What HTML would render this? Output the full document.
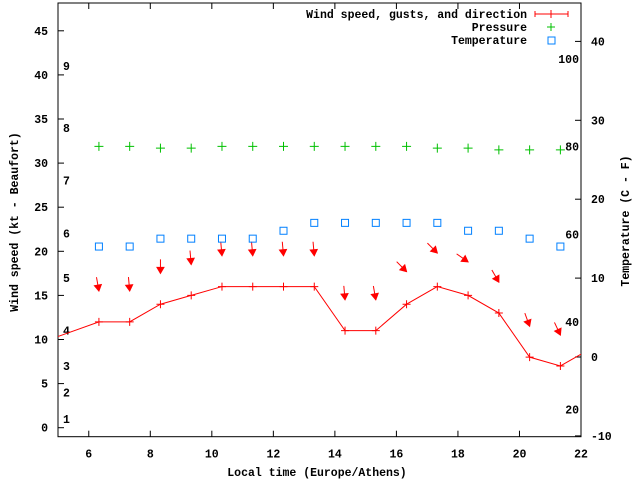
<!DOCTYPE html>
<html><head><meta charset="utf-8"><style>
body{margin:0;background:#fff}
svg text{font-family:"Liberation Mono",monospace;font-weight:bold;font-size:11.5px;fill:#000}
</style></head><body>
<svg id="chart" width="640" height="480" xmlns="http://www.w3.org/2000/svg">
<defs><clipPath id="clip"><rect x="58" y="3" width="523" height="433.7"/></clipPath></defs>
<g id="axes"></g>
<g id="marks" clip-path="url(#clip)"></g>
<g id="legend"></g>
</svg>
<script>
const times=[6.33,7.33,8.33,9.33,10.33,11.33,12.33,13.33,14.33,15.33,16.33,17.33,18.33,19.33,20.33,21.33];
const lineTimes=[4.33,6.33,7.33,8.33,9.33,10.33,11.33,12.33,13.33,14.33,15.33,16.33,17.33,18.33,19.33,20.33,21.33,22.33];
const windSpeed=[9.5,12,12,14,15,16,16,16,16,11,11,14,16,15,13,8,7,9];
const gusts=[15.5,15.5,17.5,18.5,19.5,19.5,19.5,19.5,14.5,14.5,17.7,19.8,18.8,16.5,11.5,10.5];
const windDir=[350,355,0,355,355,355,355,355,355,350,315,315,305,330,340,335];
const pressure=[31.9,31.9,31.7,31.7,31.9,31.9,31.9,31.9,31.9,31.9,31.9,31.7,31.7,31.5,31.5,31.5];
const temperature=[14,14,15,15,15,15,16,17,17,17,17,17,16,16,15,14];
const xTicks=[6,8,10,12,14,16,18,20,22];
const yTicks=[0,5,10,15,20,25,30,35,40,45];
const y2Ticks=[-10,0,10,20,30,40];
const beaufortLabels=["1","2","3","4","5","6","7","8","9"];
const beaufortKt=[1,4,7,11,17,22,28,34,41];
const fahrenheitLabels=[20,40,60,80,100];

const NS="http://www.w3.org/2000/svg";
const L=58,R=581,T=3,B=436.7;
const X=t=>L+(t-5)*(R-L)/17;
const Y=v=>427.7-v*8.82;
const Y2=c=>357-c*7.89;
function mk(tag,attrs,parent,txt){const e=document.createElementNS(NS,tag);for(const k in attrs)e.setAttribute(k,attrs[k]);if(txt!==undefined)e.textContent=txt;parent.appendChild(e);return e;}
const ax=document.getElementById('axes'),mg=document.getElementById('marks'),lg=document.getElementById('legend');

let e=mk('rect',{x:L,y:T,width:R-L,height:B-T,fill:'none',stroke:'#000','stroke-width':1},ax);

xTicks.forEach(t=>{const x=X(t);
 e=mk('line',{x1:x,x2:x,y1:B,y2:B-6,stroke:'#000'},ax);
 e=mk('line',{x1:x,x2:x,y1:T,y2:T+6,stroke:'#000'},ax);
 e=mk('text',{x:x,y:B+21,'text-anchor':'middle'},ax,t);});
yTicks.forEach(v=>{const y=Y(v);
 e=mk('line',{x1:L,x2:L+6,y1:y,y2:y,stroke:'#000'},ax);
 e=mk('text',{x:L-10,y:y+4,'text-anchor':'end'},ax,v);});
y2Ticks.forEach(v=>{const y=Y2(v);
 e=mk('line',{x1:R,x2:R-6,y1:y,y2:y,stroke:'#000'},ax);
 e=mk('text',{x:R+10,y:y+4,'text-anchor':'start'},ax,v);});
beaufortLabels.forEach((s,i)=>{e=mk('text',{x:63,y:Y(beaufortKt[i])+4},ax,s);});
fahrenheitLabels.forEach(f=>{e=mk('text',{x:579,y:Y2((f-32)*5/9)+4,'text-anchor':'end'},ax,f);});
e=mk('text',{x:317,y:476,'text-anchor':'middle'},ax,'Local time (Europe/Athens)');
e=mk('text',{x:0,y:0,'text-anchor':'middle',transform:'translate(18,222) rotate(-90)'},ax,'Wind speed (kt - Beaufort)');
e=mk('text',{x:0,y:0,'text-anchor':'middle',transform:'translate(629,221) rotate(-90)'},ax,'Temperature (C - F)');

// wind line
e=mk('polyline',{points:lineTimes.map((t,i)=>X(t)+','+Y(windSpeed[i])).join(' '),fill:'none',stroke:'#f00','stroke-width':1},mg);

lineTimes.forEach((t,i)=>{const x=X(t),y=Y(windSpeed[i]);
 e=mk('path',{d:`M${x-4},${y}H${x+4}M${x},${y-4}V${y+4}`,stroke:'#f00'},mg);});
// gust arrows
times.forEach((t,i)=>{const hx=X(t),hy=Y(gusts[i]);const a=windDir[i]*Math.PI/180;const Ln=14;
 const ux=-Math.sin(a),uy=Math.cos(a);const tx=hx-ux*Ln,ty=hy-uy*Ln;
 const px=-uy,py=ux;const bx=hx-ux*6,by=hy-uy*6;
 const g=mk('g',{},mg);
 mk('line',{x1:tx,y1:ty,x2:hx,y2:hy,stroke:'#f00'},g);
 mk('polygon',{points:`${hx},${hy} ${bx+px*3.5},${by+py*3.5} ${bx-px*3.5},${by-py*3.5}`,fill:'#f00',stroke:'#f00'},g);});
// pressure
times.forEach((t,i)=>{const x=X(t),y=Y(pressure[i]);
 e=mk('path',{d:`M${x-4.5},${y}H${x+4.5}M${x},${y-4.5}V${y+4.5}`,stroke:'#00c000'},mg);});
// temperature
times.forEach((t,i)=>{const x=X(t),y=Y2(temperature[i]);
 e=mk('rect',{x:x-3.5,y:y-3.5,width:7,height:7,fill:'none',stroke:'#0080ff'},mg);});
// legend
e=mk('text',{x:527,y:18,'text-anchor':'end'},lg,'Wind speed, gusts, and direction');
e=mk('path',{d:'M535,14H568M535,11V17M568,11V17M551,10V18',stroke:'#f00'},lg);
e=mk('text',{x:527,y:31,'text-anchor':'end'},lg,'Pressure');
e=mk('path',{d:'M547,27H555M551,23V31',stroke:'#00c000'},lg);
e=mk('text',{x:527,y:44,'text-anchor':'end'},lg,'Temperature');
e=mk('rect',{x:548,y:37,width:7,height:7,fill:'none',stroke:'#0080ff'},lg);
</script>
</body></html>
